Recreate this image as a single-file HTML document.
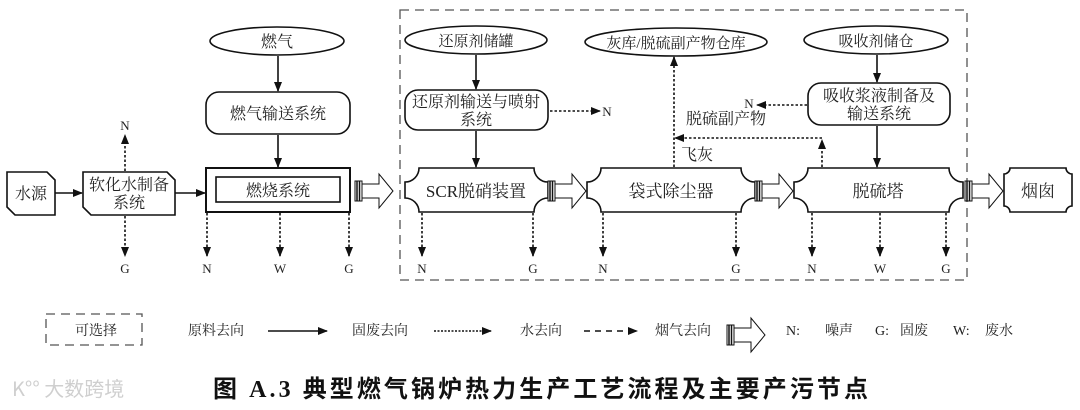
<!DOCTYPE html>
<html><head><meta charset="utf-8"><style>
html,body{margin:0;padding:0;background:#fff;}
svg{display:block;}
text{font-family:"Liberation Serif","Noto Serif CJK SC","Noto Sans CJK SC",serif;fill:#222;}
</style></head><body>
<svg width="1080" height="410" viewBox="0 0 1080 410" xmlns="http://www.w3.org/2000/svg">
<defs>
<marker id="ah" markerWidth="10" markerHeight="8" refX="9" refY="4" orient="auto" markerUnits="userSpaceOnUse"><path d="M0,0 L10,4 L0,8 Z" fill="#111"/></marker>
<g id="flue"><rect x="0" y="-10" width="7" height="20" fill="#fff" stroke="#111" stroke-width="1"/><line x1="2" y1="-10" x2="2" y2="10" stroke="#111" stroke-width="1.5"/><line x1="4.5" y1="-10" x2="4.5" y2="10" stroke="#111" stroke-width="1.5"/><path d="M7,-7 L24,-7 L24,-17 L38,0 L24,17 L24,7 L7,7 Z" fill="#fff" stroke="#111" stroke-width="1"/></g>
</defs>
<g fill="none" stroke="#111" stroke-width="1.6">
<rect x="400" y="10" width="567" height="270" stroke="#555" stroke-width="1.3" stroke-dasharray="9,6"/>
<path d="M7,172 L47,172 L55,180 L55,215 L15,215 L7,207 Z"/>
<path d="M83,172 L167,172 L175,180 L175,215 L91,215 L83,207 Z"/>
<ellipse cx="277" cy="41" rx="67" ry="14"/>
<rect x="206" y="92" width="144" height="42" rx="13"/>
<rect x="206" y="168" width="144" height="44" stroke-width="2"/>
<rect x="216" y="177" width="124" height="25" stroke-width="1.6"/>
<ellipse cx="476" cy="40" rx="71" ry="14"/>
<rect x="405" y="90" width="143" height="40" rx="13"/>
<ellipse cx="676" cy="42" rx="91" ry="14"/>
<ellipse cx="876" cy="40" rx="72" ry="14"/>
<rect x="808" y="83" width="142" height="42" rx="13"/>
<path d="M419,168 L534,168 A14,14 0 0 0 548,182 L548,198 A14,14 0 0 0 534,212 L419,212 A14,14 0 0 0 405,198 L405,182 A14,14 0 0 0 419,168 Z"/>
<path d="M601,168 L741,168 A14,14 0 0 0 755,182 L755,198 A14,14 0 0 0 741,212 L601,212 A14,14 0 0 0 587,198 L587,182 A14,14 0 0 0 601,168 Z"/>
<path d="M808,168 L949,168 A14,14 0 0 0 963,182 L963,198 A14,14 0 0 0 949,212 L808,212 A14,14 0 0 0 794,198 L794,182 A14,14 0 0 0 808,168 Z"/>
<path d="M1010,168 L1066,168 A6,6 0 0 0 1072,174 L1072,206 A6,6 0 0 0 1066,212 L1010,212 A6,6 0 0 0 1004,206 L1004,174 A6,6 0 0 0 1010,168 Z"/>
<line x1="55" y1="193" x2="82" y2="193" marker-end="url(#ah)"/>
<line x1="175" y1="193" x2="205" y2="193" marker-end="url(#ah)"/>
<line x1="278" y1="56" x2="278" y2="91" marker-end="url(#ah)"/>
<line x1="278" y1="135" x2="278" y2="167" marker-end="url(#ah)"/>
<line x1="476" y1="55" x2="476" y2="89" marker-end="url(#ah)"/>
<line x1="476" y1="131" x2="476" y2="167" marker-end="url(#ah)"/>
<line x1="877" y1="55" x2="877" y2="82" marker-end="url(#ah)"/>
<line x1="877" y1="126" x2="877" y2="167" marker-end="url(#ah)"/>
</g>
<g fill="none" stroke="#111" stroke-width="1.6" stroke-dasharray="2.5,2">
<line x1="125" y1="171" x2="125" y2="135" marker-end="url(#ah)"/>
<line x1="125" y1="216" x2="125" y2="256" marker-end="url(#ah)"/>
<line x1="207" y1="213" x2="207" y2="256" marker-end="url(#ah)"/>
<line x1="280" y1="213" x2="280" y2="256" marker-end="url(#ah)"/>
<line x1="349" y1="213" x2="349" y2="256" marker-end="url(#ah)"/>
<line x1="422" y1="213" x2="422" y2="256" marker-end="url(#ah)"/>
<line x1="533" y1="213" x2="533" y2="256" marker-end="url(#ah)"/>
<line x1="603" y1="213" x2="603" y2="256" marker-end="url(#ah)"/>
<line x1="736" y1="213" x2="736" y2="256" marker-end="url(#ah)"/>
<line x1="812" y1="213" x2="812" y2="256" marker-end="url(#ah)"/>
<line x1="880" y1="213" x2="880" y2="256" marker-end="url(#ah)"/>
<line x1="946" y1="213" x2="946" y2="256" marker-end="url(#ah)"/>
<line x1="550" y1="111" x2="600" y2="111" marker-end="url(#ah)"/>
<line x1="807" y1="105" x2="757" y2="105" marker-end="url(#ah)"/>
<line x1="674" y1="167" x2="674" y2="57" marker-end="url(#ah)"/>
<line x1="822" y1="167" x2="822" y2="140" marker-end="url(#ah)"/>
<line x1="822" y1="138" x2="675" y2="138" marker-end="url(#ah)"/>
</g>
<use href="#flue" x="355" y="191"/>
<use href="#flue" x="548" y="191"/>
<use href="#flue" x="755" y="191"/>
<use href="#flue" x="965" y="191"/>
<g font-size="16" text-anchor="middle">
<text x="31" y="199">水源</text>
<text x="129" y="190">软化水制备</text>
<text x="129" y="208">系统</text>
<text x="277" y="47">燃气</text>
<text x="278" y="119">燃气输送系统</text>
<text x="278" y="196">燃烧系统</text>
<text x="476" y="46" font-size="15">还原剂储罐</text>
<text x="476" y="107">还原剂输送与喷射</text>
<text x="476" y="125">系统</text>
<text x="676" y="48" font-size="15">灰库/脱硫副产物仓库</text>
<text x="876" y="46" font-size="15">吸收剂储仓</text>
<text x="879" y="101">吸收浆液制备及</text>
<text x="879" y="119">输送系统</text>
<text x="476" y="197" font-size="17">SCR脱硝装置</text>
<text x="671" y="197" font-size="17">袋式除尘器</text>
<text x="878" y="197" font-size="17">脱硫塔</text>
<text x="1038" y="197" font-size="17">烟囱</text>
<text x="726" y="124">脱硫副产物</text>
<text x="697" y="160">飞灰</text>
</g>
<g font-size="13" text-anchor="middle">
<text x="125" y="130">N</text>
<text x="125" y="273">G</text>
<text x="207" y="273">N</text><text x="280" y="273">W</text><text x="349" y="273">G</text>
<text x="422" y="273">N</text><text x="533" y="273">G</text>
<text x="603" y="273">N</text><text x="736" y="273">G</text>
<text x="812" y="273">N</text><text x="880" y="273">W</text><text x="946" y="273">G</text>
<text x="607" y="116">N</text>
<text x="749" y="108">N</text>
</g>
<rect x="46" y="314" width="96" height="31" fill="none" stroke="#555" stroke-width="1.3" stroke-dasharray="9,6"/>
<g font-size="14">
<text x="75" y="335">可选择</text>
<text x="188" y="335">原料去向</text>
<text x="352" y="335">固废去向</text>
<text x="520" y="335">水去向</text>
<text x="655" y="335">烟气去向</text>
<text x="786" y="335">N:</text>
<text x="825" y="335">噪声</text>
<text x="875" y="335">G:</text>
<text x="900" y="335">固废</text>
<text x="953" y="335">W:</text>
<text x="985" y="335">废水</text>
</g>
<line x1="268" y1="331" x2="327" y2="331" stroke="#111" stroke-width="1.6" marker-end="url(#ah)"/>
<line x1="434" y1="331" x2="491" y2="331" stroke="#111" stroke-width="1.6" stroke-dasharray="2,1.5" marker-end="url(#ah)"/>
<line x1="584" y1="331" x2="637" y2="331" stroke="#111" stroke-width="1.6" stroke-dasharray="6,5" marker-end="url(#ah)"/>
<use href="#flue" x="727" y="335"/>
<text x="12" y="396" font-size="20" style="fill:#cfcfcf;font-family:'Noto Sans CJK SC',sans-serif">K°° 大数跨境</text>
<text x="213" y="397" font-size="24" font-weight="bold" textLength="655" lengthAdjust="spacing" style="fill:#111;font-family:'Liberation Serif','Noto Sans CJK SC',sans-serif">图 A.3 典型燃气锅炉热力生产工艺流程及主要产污节点</text>
</svg>
</body></html>
